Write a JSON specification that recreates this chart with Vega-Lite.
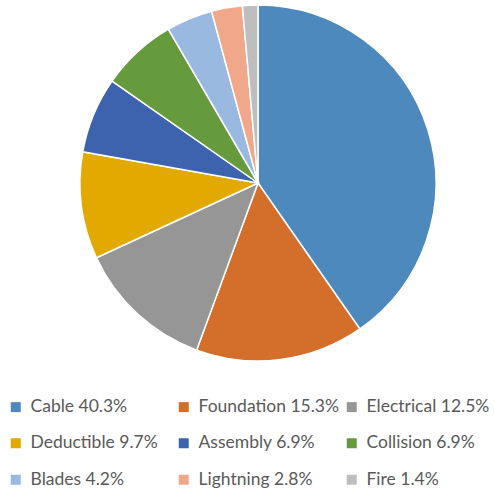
{
  "$schema": "https://vega.github.io/schema/vega-lite/v6.json",
  "autosize": {"type": "none"},
  "width": 474,
  "height": 356,
  "padding": {"left": 21, "top": 5, "right": 0, "bottom": 129},
  "background": "white",
  "data": {
    "values": [
      {"cause": "Cable", "label": "Cable 40.3%", "pct": 40.3, "rank": 1},
      {"cause": "Foundation", "label": "Foundation 15.3%", "pct": 15.3, "rank": 2},
      {"cause": "Electrical", "label": "Electrical 12.5%", "pct": 12.5, "rank": 3},
      {"cause": "Deductible", "label": "Deductible 9.7%", "pct": 9.7, "rank": 4},
      {"cause": "Assembly", "label": "Assembly 6.9%", "pct": 6.9, "rank": 5},
      {"cause": "Collision", "label": "Collision 6.9%", "pct": 6.9, "rank": 6},
      {"cause": "Blades", "label": "Blades 4.2%", "pct": 4.2, "rank": 7},
      {"cause": "Lightning", "label": "Lightning 2.8%", "pct": 2.8, "rank": 8},
      {"cause": "Fire", "label": "Fire 1.4%", "pct": 1.4, "rank": 9}
    ]
  },
  "mark": {"type": "arc", "outerRadius": 178, "stroke": "white", "strokeWidth": 1.5},
  "encoding": {
    "theta": {"field": "pct", "type": "quantitative", "stack": true},
    "order": {"field": "rank", "type": "quantitative", "sort": "ascending"},
    "color": {
      "field": "label",
      "type": "nominal",
      "sort": {"field": "rank", "order": "ascending"},
      "scale": {
        "domain": ["Cable 40.3%", "Foundation 15.3%", "Electrical 12.5%", "Deductible 9.7%", "Assembly 6.9%", "Collision 6.9%", "Blades 4.2%", "Lightning 2.8%", "Fire 1.4%"],
        "range": ["#4E89BE", "#D46F2B", "#969696", "#E2A900", "#3D63AE", "#659A3D", "#99B9E0", "#F1A78A", "#BEBEBE"]
      },
      "legend": {
        "title": null,
        "orient": "none",
        "legendX": -14,
        "legendY": 393,
        "direction": "horizontal",
        "columns": 3,
        "gridAlign": "all",
        "columnPadding": 3,
        "rowPadding": 17.5,
        "symbolType": "square",
        "symbolSize": 100,
        "symbolStrokeWidth": 0,
        "labelFont": "Lato",
        "labelFontSize": 17.5,
        "labelColor": "#595959",
        "labelOffset": 6,
        "labelLimit": 300
      }
    }
  },
  "config": {"view": {"stroke": null}}
}
